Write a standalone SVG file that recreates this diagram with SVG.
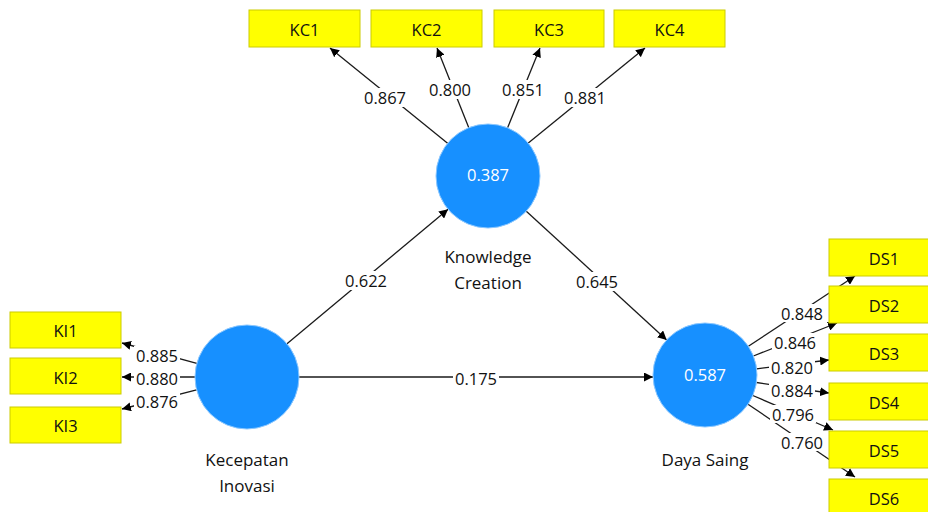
<svg xmlns="http://www.w3.org/2000/svg" width="928" height="512" viewBox="0 0 928 512">
<style>
text{font-family:"Open Sans","Noto Sans",sans-serif;font-size:16.5px;fill:#111;text-anchor:middle;dominant-baseline:central}
text.n{font-size:17px}
.ind rect{fill:#ffff00;stroke:#cccc00;stroke-width:1}
.lv circle{fill:#1790ff;stroke:#8cc8ff;stroke-width:1}
.lv text.v{fill:#ffffff}
.c line{stroke:#1a1a1a;stroke-width:1.3}
.lb rect{fill:#ffffff}
</style>
<defs>
<marker id="ah" viewBox="0 0 10 10" refX="10" refY="5" markerWidth="9" markerHeight="9" markerUnits="userSpaceOnUse" orient="auto">
<path d="M0,0 L10,5 L0,10 z" fill="#000"/>
</marker>
</defs>
<rect width="928" height="512" fill="#ffffff"/>
<g class="c" id="connectors">
<line x1="447.6" y1="143.2" x2="330" y2="48" marker-end="url(#ah)"/>
<line x1="468.8" y1="127.7" x2="437" y2="48" marker-end="url(#ah)"/>
<line x1="507.6" y1="127.8" x2="540" y2="48" marker-end="url(#ah)"/>
<line x1="528.3" y1="143.1" x2="645" y2="48" marker-end="url(#ah)"/>
<line x1="196.8" y1="363.3" x2="122" y2="343" marker-end="url(#ah)"/>
<line x1="195" y1="377" x2="122" y2="377" marker-end="url(#ah)"/>
<line x1="196.6" y1="389.9" x2="122" y2="409" marker-end="url(#ah)"/>
<line x1="748.4" y1="346.3" x2="855" y2="276" marker-end="url(#ah)"/>
<line x1="753.4" y1="356" x2="837" y2="323" marker-end="url(#ah)"/>
<line x1="756.6" y1="368.8" x2="829" y2="360" marker-end="url(#ah)"/>
<line x1="756.5" y1="382.5" x2="829" y2="393" marker-end="url(#ah)"/>
<line x1="752.8" y1="395.5" x2="833" y2="430" marker-end="url(#ah)"/>
<line x1="748" y1="404.2" x2="855" y2="477" marker-end="url(#ah)"/>
<line x1="287" y1="343.7" x2="448.1" y2="209.3" marker-end="url(#ah)"/>
<line x1="526.3" y1="211.2" x2="666.7" y2="339.9" marker-end="url(#ah)"/>
<line x1="299" y1="377" x2="653" y2="377" marker-end="url(#ah)"/>
<g class="lb">
<rect x="362" y="88" width="46" height="19"/><text x="385" y="97">0.867</text>
<rect x="427" y="80" width="46" height="19"/><text x="450" y="89">0.800</text>
<rect x="500" y="80" width="46" height="19"/><text x="523" y="89">0.851</text>
<rect x="562" y="88" width="46" height="19"/><text x="585" y="97">0.881</text>
<rect x="134" y="346" width="46" height="18"/><text x="157" y="355">0.885</text>
<rect x="134" y="369" width="46" height="18"/><text x="157" y="378">0.880</text>
<rect x="134" y="392" width="46" height="18"/><text x="157" y="401">0.876</text>
<rect x="779" y="304" width="46" height="18"/><text x="802" y="313">0.848</text>
<rect x="772" y="333" width="46" height="18"/><text x="795" y="342">0.846</text>
<rect x="769" y="358" width="46" height="18"/><text x="792" y="367">0.820</text>
<rect x="769" y="381" width="46" height="18"/><text x="792" y="390">0.884</text>
<rect x="770" y="405" width="46" height="18"/><text x="793" y="414">0.796</text>
<rect x="779" y="433" width="46" height="18"/><text x="802" y="442">0.760</text>
<rect x="343" y="271" width="46" height="19"/><text x="366" y="280">0.622</text>
<rect x="574" y="272" width="46" height="19"/><text x="597" y="281">0.645</text>
<rect x="453" y="369" width="46" height="18"/><text x="476" y="378">0.175</text>
</g>
</g>
<g class="ind" id="KC1"><rect x="249" y="10" width="111" height="37"/><text x="304.5" y="29">KC1</text></g>
<g class="ind" id="KC2"><rect x="371" y="10" width="111" height="37"/><text x="426.5" y="29">KC2</text></g>
<g class="ind" id="KC3"><rect x="494" y="10" width="110" height="37"/><text x="549" y="29">KC3</text></g>
<g class="ind" id="KC4"><rect x="614" y="10" width="111" height="37"/><text x="669.5" y="29">KC4</text></g>
<g class="ind" id="KI1"><rect x="10" y="312" width="111" height="36"/><text x="65.5" y="330">KI1</text></g>
<g class="ind" id="KI2"><rect x="10" y="358" width="111" height="36"/><text x="65.5" y="377">KI2</text></g>
<g class="ind" id="KI3"><rect x="10" y="407" width="111" height="36"/><text x="65.5" y="425">KI3</text></g>
<g class="ind" id="DS1"><rect x="829" y="239" width="111" height="37"/><text x="884" y="258">DS1</text></g>
<g class="ind" id="DS2"><rect x="829" y="286" width="111" height="37"/><text x="884" y="305">DS2</text></g>
<g class="ind" id="DS3"><rect x="829" y="334" width="111" height="37"/><text x="884" y="353">DS3</text></g>
<g class="ind" id="DS4"><rect x="829" y="383" width="111" height="37"/><text x="884" y="402">DS4</text></g>
<g class="ind" id="DS5"><rect x="829" y="431" width="111" height="37"/><text x="884" y="450">DS5</text></g>
<g class="ind" id="DS6"><rect x="829" y="479" width="111" height="37"/><text x="884" y="498">DS6</text></g>
<g class="lv" id="KnowledgeCreation"><circle cx="488" cy="176" r="52"/><text class="v" x="488" y="174">0.387</text><text class="n" x="488" y="256">Knowledge</text><text class="n" x="488" y="282">Creation</text></g>
<g class="lv" id="KecepatanInovasi"><circle cx="247" cy="377" r="52"/><text class="n" x="247" y="459">Kecepatan</text><text class="n" x="247" y="485">Inovasi</text></g>
<g class="lv" id="DayaSaing"><circle cx="705" cy="375" r="52"/><text class="v" x="705" y="374">0.587</text><text class="n" x="705" y="459">Daya Saing</text></g>
</svg>
